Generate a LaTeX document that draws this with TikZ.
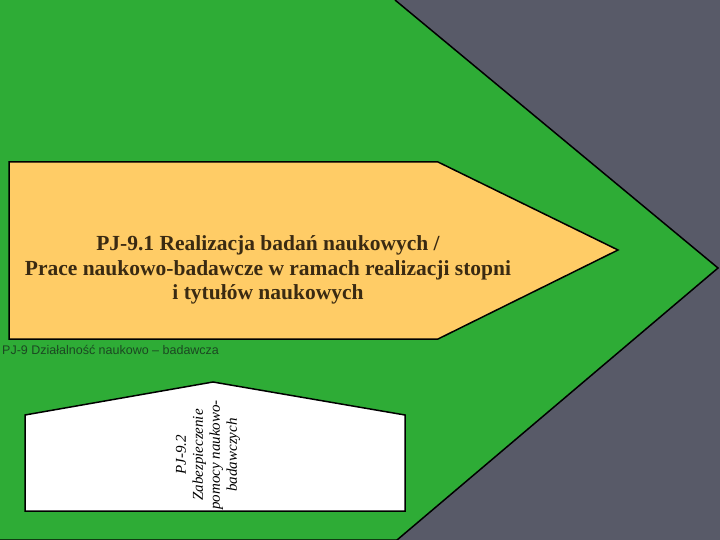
\documentclass[tikz,border=0pt]{standalone}
\usepackage{fontspec}
\setmainfont{Liberation Serif}
\setsansfont{Liberation Sans}

\definecolor{slide}{RGB}{88,90,104}
\definecolor{leafgreen}{RGB}{46,172,54}
\definecolor{sand}{RGB}{255,204,102}
\definecolor{umber}{RGB}{58,42,18}
\definecolor{moss}{RGB}{28,72,34}

\begin{document}
\begin{tikzpicture}[x=1pt,y=-1pt]
	\fill[slide] (0,0) rectangle (720,540);		% background
	\useasboundingbox (0,0) rectangle (720,540);
	
	% PJ-9 green arrow
	\fill[leafgreen] (0,0) -- (395,0) -- (718,268) -- (397,540) -- (0,540) -- cycle;
	\draw[black, line width=1.5pt] (395,0) -- (718,268) -- (397,540) -- (0,540);
	
	% PJ-9.1 orange arrow
	\draw[black, fill=sand, line width=1.5pt] (9,162) -- (438,162) -- (618,250) -- (438,339) -- (9,339) -- cycle;
	
	% PJ-9.2 white block
	\draw[black, fill=white, line width=1.5pt] (25,511) -- (25,415) -- (213,382) -- (405,415) -- (405,511) -- cycle;
	
	% labels
	\node[font=\bfseries\fontsize{21.5}{24.5}\selectfont, text=umber, align=center] (pj91) at (268,270)
		{PJ-9.1 Realizacja badań naukowych /\\Prace naukowo-badawcze w ramach realizacji stopni\\i tytułów naukowych};
	\node[anchor=base west, inner sep=0, font=\sffamily\fontsize{12.5}{14}\selectfont, text=moss] (pj9) at (2,354)
		{PJ-9 Działalność naukowo – badawcza};
	\node[rotate=90, inner sep=0, align=center, font=\itshape\fontsize{15}{17}\selectfont] (pj92) at (208,455)
		{PJ-9.2\\Zabezpieczenie\\pomocy naukowo-\\badawczych};
\end{tikzpicture}
\end{document}
